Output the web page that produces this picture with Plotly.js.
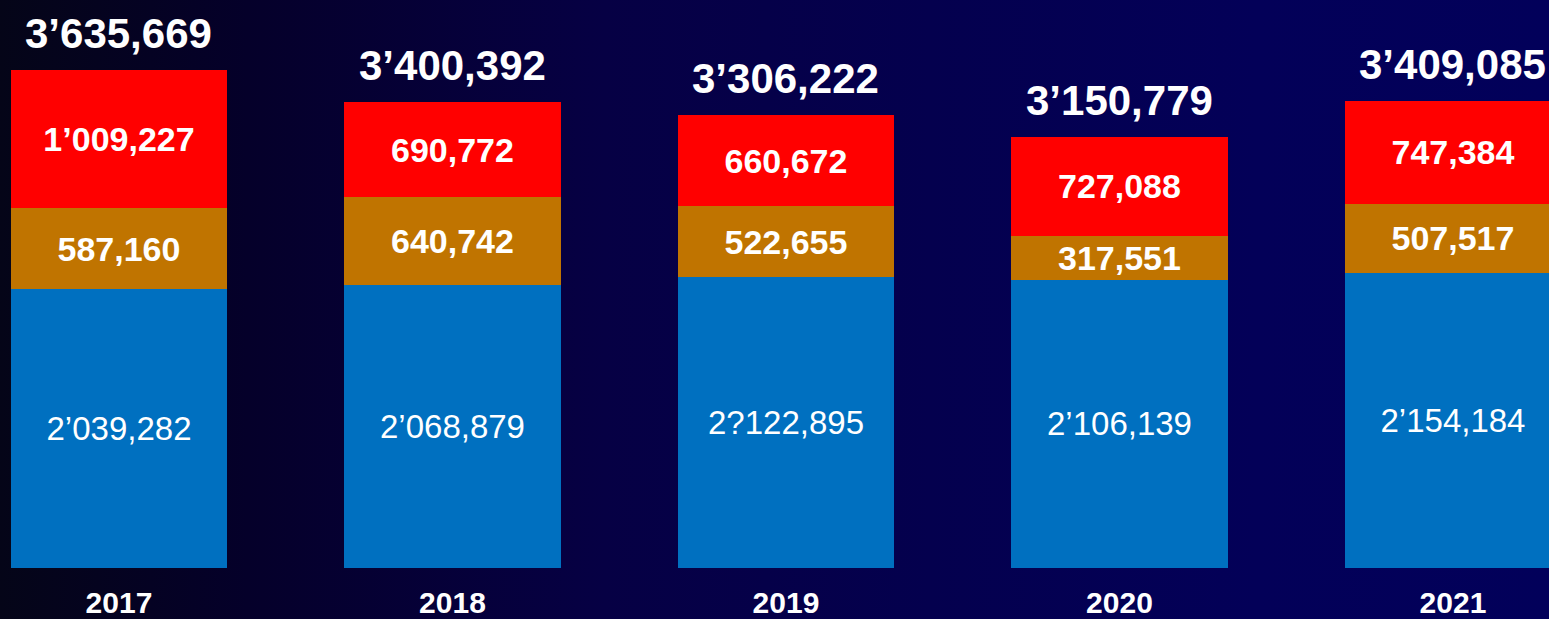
<!DOCTYPE html>
<html>
<head>
<meta charset="utf-8">
<script src="https://cdn.plot.ly/plotly-3.0.1.min.js"></script>
<style>
  html, body { margin: 0; padding: 0; width: 1549px; height: 619px; overflow: hidden; }
  body { background: linear-gradient(to right, #050518 0%, #05002a 16%, #060044 39%, #04004e 60%, #030058 81%, #02005a 100%); }
  #chart { width: 1549px; height: 619px; }
</style>
</head>
<body>
<div id="chart"></div>
<script>
const years = ['2017', '2018', '2019', '2020', '2021'];
const baseValues = [2039282, 2068879, 2122895, 2106139, 2154184];
const midValues = [587160, 640742, 522655, 317551, 507517];
const topValues = [1009227, 690772, 660672, 727088, 747384];
const baseLabels = ['2’039,282', '2’068,879', '2?122,895', '2’106,139', '2’154,184'];
const midLabels = ['587,160', '640,742', '522,655', '317,551', '507,517'];
const topLabels = ['1’009,227', '690,772', '660,672', '727,088', '747,384'];
const totalLabels = ['3’635,669', '3’400,392', '3’306,222', '3’150,779', '3’409,085'];

const totals = years.map((_, i) => baseValues[i] + midValues[i] + topValues[i]);

function barTrace(values, labels, color, bold, size) {
  return {
    type: 'bar',
    x: years,
    y: values,
    text: labels,
    textposition: 'inside',
    insidetextanchor: 'middle',
    constraintext: 'none',
    textangle: 0,
    texttemplate: bold ? '<b>%{text}</b>' : '%{text}',
    textfont: { family: 'Liberation Sans, Arial, sans-serif', size: size, color: '#ffffff' },
    marker: { color: color, line: { width: 0 } },
    hoverinfo: 'skip',
    showlegend: false
  };
}

const data = [
  barTrace(baseValues, baseLabels, '#0070C0', false, 33),
  barTrace(midValues, midLabels, '#C07400', true, 34),
  barTrace(topValues, topLabels, '#FF0000', true, 34)
];

const annotations = years.map((yr, i) => ({
  x: i,
  y: totals[i],
  xref: 'x',
  yref: 'y',
  text: '<b>' + totalLabels[i] + '</b>',
  showarrow: false,
  yanchor: 'bottom',
  yshift: 11,
  font: { family: 'Liberation Sans, Arial, sans-serif', size: 42, color: '#ffffff' }
}));

const layout = {
  width: 1549,
  height: 619,
  margin: { l: 0, r: 0, t: 0, b: 51, pad: 0 },
  paper_bgcolor: 'rgba(0,0,0,0)',
  plot_bgcolor: 'rgba(0,0,0,0)',
  barmode: 'stack',
  bargap: 0.352,
  showlegend: false,
  xaxis: {
    type: 'category',
    range: [-0.3568, 4.2879],
    showgrid: false,
    zeroline: false,
    showline: false,
    ticks: '',
    ticklabelstandoff: 14,
    tickfont: { family: 'Liberation Sans, Arial, sans-serif', size: 30, color: '#ffffff', weight: 'bold' }
  },
  yaxis: {
    range: [0, 4149000],
    showgrid: false,
    zeroline: false,
    showline: false,
    showticklabels: false,
    ticks: ''
  },
  annotations: annotations
};

Plotly.newPlot('chart', data, layout, { displayModeBar: false, staticPlot: true });
</script>
</body>
</html>
